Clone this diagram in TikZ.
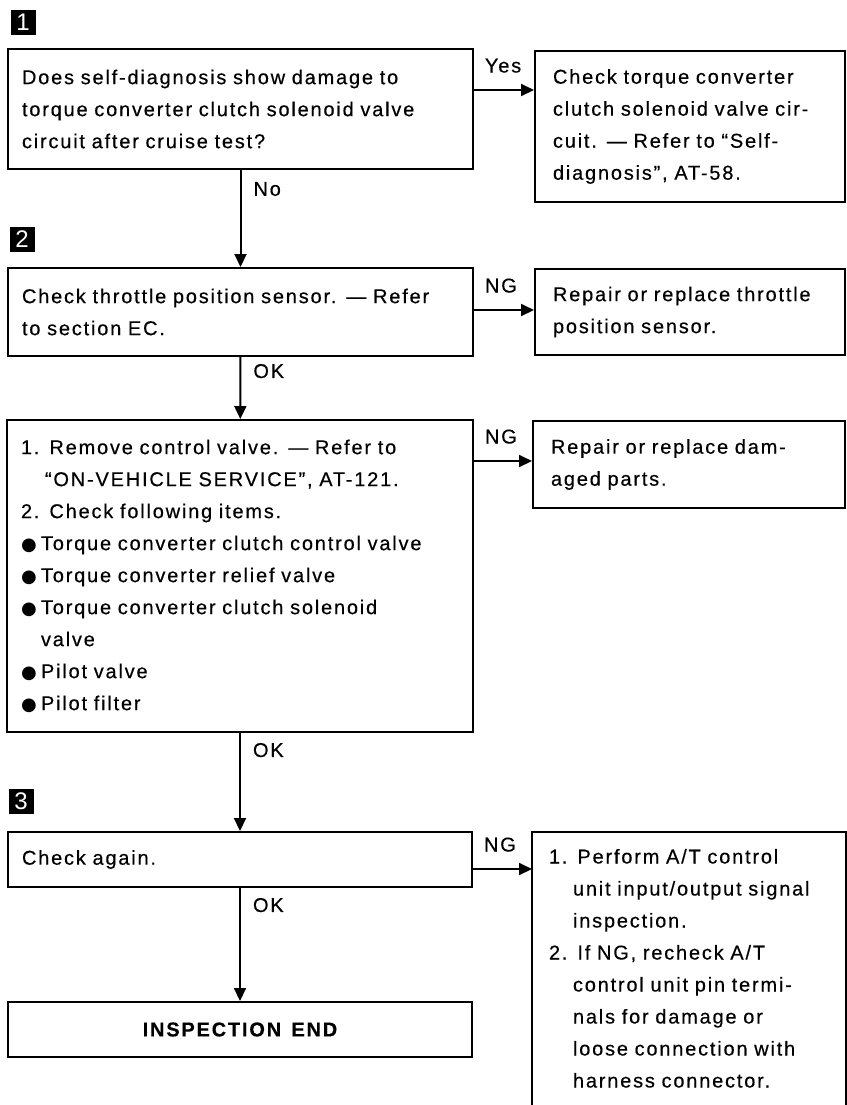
\documentclass[tikz,border=0pt]{standalone}
\usepackage{fontspec}
\setmainfont{Liberation Sans}[LetterSpace=9, WordSpace=1.4, FakeBold=0.4]
\newfontfamily\dingfont{DejaVu Sans}
\newfontfamily\markfont{Liberation Sans}
\usetikzlibrary{arrows.meta}

\newcommand{\blob}{\makebox[10pt][l]{\dingfont\fontsize{9}{9}\selectfont ●}}
\newcommand{\hang}{\hspace*{12pt}}

\begin{document}
\begin{tikzpicture}[
     x = 0.5pt, y = -0.5pt, % one unit per pixel, y runs downwards
     > = {Triangle[length=6.5pt, width=6pt]}, % filled arrow head
     line width = 1pt,
     font = \fontsize{10}{16}\selectfont
 ]

 \tikzstyle{check} = [
     draw = black,
     align = left,
     inner xsep = 7pt,
     inner ysep = 0pt
 ]
 \tikzstyle{remedy} = [
     check,
     inner xsep = 9pt
 ]
 \tikzstyle{stepmark} = [
     fill = black,
     text = white,
     minimum size = 12.5pt,
     inner sep = 0pt,
     font = \markfont\fontsize{12}{12}\selectfont
 ]
 \tikzstyle{answer} = [ % label under a downward arrow
     pos = 0,
     anchor = north west,
     inner sep = 0pt,
     xshift = 6pt,
     yshift = -4.5pt
 ]
 \tikzstyle{branch} = [ % label over a sideways arrow
     pos = 0,
     anchor = base west,
     inner sep = 0pt,
     xshift = 5pt,
     yshift = 8.75pt
 ]

 \useasboundingbox (0,0) rectangle (847,1105);

 % step 1
 \node[stepmark] (s1) at (23,22) {1};
 \node[check, text width=218.5pt, minimum height=60pt] (q1) at (240.5,109)
     {Does self-diagnosis show damage to\\
      torque converter clutch solenoid valve\\
      circuit after cruise test?};
 \node[remedy, text width=137pt, minimum height=75.5pt] (r1) at (690,126.5)
     {Check torque converter\\
      clutch solenoid valve cir-\\
      cuit. — Refer to “Self-\\
      diagnosis”, AT-58.};

 % step 2
 \node[stepmark] (s2) at (22,239) {2};
 \node[check, text width=218.5pt, minimum height=44pt] (q2) at (240.5,312)
     {Check throttle position sensor. — Refer\\
      to section EC.};
 \node[remedy, text width=137pt, minimum height=43pt] (r2) at (690,312)
     {Repair or replace throttle\\
      position sensor.};

 \node[check, text width=219pt, minimum height=156pt] (q3) at (240,576)
     {1. Remove control valve. — Refer to\\
      \hang “ON-VEHICLE SERVICE”, AT-121.\\
      2. Check following items.\\
      \blob Torque converter clutch control valve\\
      \blob Torque converter relief valve\\
      \blob Torque converter clutch solenoid\\
      \hspace*{10pt}valve\\
      \blob Pilot valve\\
      \blob Pilot filter};
 \node[remedy, text width=138pt, minimum height=43.5pt] (r3) at (689,464.5)
     {Repair or replace dam-\\
      aged parts.};

 % step 3
 \node[stepmark] (s3) at (21,801) {3};
 \node[check, text width=218pt, minimum height=27.5pt] (q4) at (240,859.5)
     {Check again.};
 \node[remedy, draw=none, text width=140pt, inner xsep=8pt, inner ysep=8pt,
       anchor=north west] (r4) at (532,832)
     {1. Perform A/T control\\
      \hang unit input/output signal\\
      \hang inspection.\\
      2. If NG, recheck A/T\\
      \hang control unit pin termi-\\
      \hang nals for damage or\\
      \hang loose connection with\\
      \hang harness connector.};
 \draw (r4.north west) rectangle ([yshift=-145pt]r4.north east);

 \node[check, align=center, minimum width=232pt, minimum height=27.5pt]
     (done) at (240,1029.5) {\bfseries INSPECTION END};

 % main line
 \draw[->] (q1) -- node[answer, yshift=-1pt] {No} (q2);
 \draw[->] (q2) -- node[answer, yshift=1.5pt] {OK} (q3);
 \draw[->] (q3) -- node[answer] {OK} (q4);
 \draw[->] (q4) -- node[answer] {OK} (done);

 % side branches
 \draw[->] ([yshift=-21pt]q1.north east) -- node[branch] {Yes}
     ([yshift=-21pt]q1.north east -| r1.west);
 \draw[->] ([yshift=-21.5pt]q2.north east) -- node[branch] {NG}
     ([yshift=-21.5pt]q2.north east -| r2.west);
 \draw[->] ([yshift=-21pt]q3.north east) -- node[branch] {NG}
     ([yshift=-21pt]q3.north east -| r3.west);
 \draw[->] ([yshift=-19pt]q4.north east) -- node[branch] {NG}
     ([yshift=-19pt]q4.north east -| r4.west);
\end{tikzpicture}
\end{document}
